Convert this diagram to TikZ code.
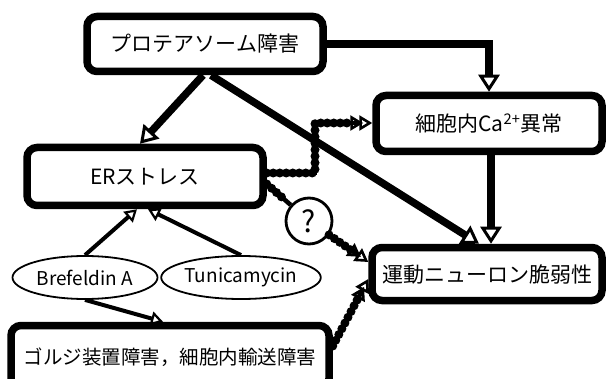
\documentclass[tikz,border=0pt]{standalone}
\usepackage{fontspec}
\setmainfont{Noto Sans CJK JP}
\usetikzlibrary{arrows.meta,calc,shapes.geometric}
\begin{document}
\begin{tikzpicture}[x=1pt,y=-1pt,
  box/.style={draw=black, line width=7.5pt, rounded corners=10pt, fill=white, inner sep=0pt, font=\fontsize{21}{24}\selectfont},
  oval/.style={draw=black, ellipse, line width=1.8pt, inner sep=0pt, fill=white, font=\fontsize{19}{22}\selectfont},
  qcirc/.style={draw=black, circle, line width=2.8pt, fill=white, minimum size=46pt, inner sep=0pt, font=\fontsize{30}{32}\selectfont},
  mainarrow/.style={draw=black, line width=7.5pt, -{Triangle[open, length=17pt, width=21pt, line width=3pt]}},
  thinarrow/.style={draw=black, line width=4pt, -{Triangle[open, length=12pt, width=14pt, line width=2.2pt]}},
  beadline/.style={draw=black, line width=4.5pt,
    preaction={draw=black, line width=9pt, dash pattern=on 0pt off 6.5pt, line cap=round, shorten >=9pt}},
  beadarrow/.style={beadline, -{Triangle[open, length=13pt, width=15pt, line width=2.6pt]}}
]
\useasboundingbox (0,0) rectangle (607,379);
% nodes
\node[box, minimum width=236pt, minimum height=55pt] (p) at (205,44) {プロテアソーム障害};
\node[box, minimum width=226pt, minimum height=56pt] (ca) at (489,123.5) {細胞内Ca\textsuperscript{2+}異常};
\node[box, minimum width=236pt, minimum height=58pt] (er) at (145,176.5) {ERストレス};
\node[box, minimum width=230pt, minimum height=53pt] (mn) at (487,274) {運動ニューロン脆弱性};
\node[box, minimum width=318pt, minimum height=63pt, font=\fontsize{19.5}{22}\selectfont] (g) at (170,357) {ゴルジ装置障害，細胞内輸送障害};
\node[oval, minimum width=145pt, minimum height=43pt] (b) at (85,277.5) {Brefeldin A};
\node[oval, minimum width=150pt, minimum height=43pt] (t) at (241,277.5) {Tunicamycin};
% main arrows
\draw[mainarrow] (p.east) -| (ca.north);
\draw[mainarrow] ([xshift=-2pt]p.south) -- ([xshift=-5pt]er.north);
\draw[mainarrow] ([xshift=6pt]p.south) -- ([xshift=-8pt]mn.north);
\draw[mainarrow] ([xshift=2pt]ca.south) -- ([xshift=2pt]ca.south |- mn.north);
% thin arrows
\draw[thinarrow] (b.north) -- ([xshift=-8pt]er.south);
\draw[thinarrow] (t.north) -- ([xshift=3pt]er.south);
\draw[thinarrow] (b.south) -- (163,0 |- g.north);
% bead chains
\node[qcirc] (q) at (309,221) {?};
\draw[beadarrow] (er.east |- 0,173) -- (315,173) -- (315,123) -- (ca.west |- 0,123);
\draw[beadline] (er.east |- 0,184) -- (q);
\draw[beadarrow] (q) -- (mn.west |- 0,262);
\draw[beadarrow] (g.east |- 0,346) -- (mn.west |- 0,279);
\end{tikzpicture}
\end{document}
